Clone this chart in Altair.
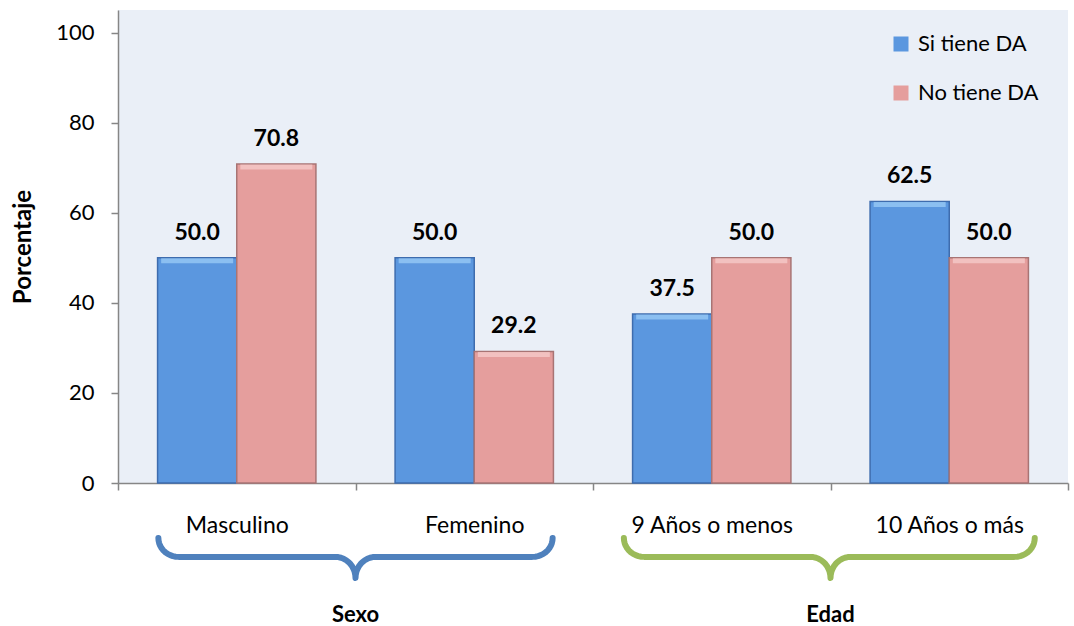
import numpy as np
import pandas as pd
import altair as alt

# --- values -------------------------------------------------------------
categorias = ["Masculino", "Femenino", "9 Años o menos", "10 Años o más"]
series = ["Si tiene DA", "No tiene DA"]
si_tiene = [50.0, 50.0, 37.5, 62.5]
no_tiene = [70.8, 29.2, 50.0, 50.0]

grupos = ["Sexo", "Edad"]
grupo_inicio = [0.17, 2.13]   # brace extent, in category-band units
grupo_fin = [1.83, 3.86]
grupo_centro = [1.0, 3.0]
grupo_color = ["#4f81bd", "#9bbb59"]

relleno = ["#5b97df", "#e59e9d"]
brillo = ["#9fd0f8", "#f8d0cf"]
borde = ["#3e6cae", "#a87474"]

FONT = "Lato"
W, H = 950, 473

rows = []
for cat, a, b in zip(categorias, si_tiene, no_tiene):
    rows.append({"cat": cat, "serie": series[0], "valor": a})
    rows.append({"cat": cat, "serie": series[1], "valor": b})
df = pd.DataFrame(rows)
df["etiqueta"] = df["valor"].map(lambda v: f"{v:.1f}")

# brace outline: curled ends, straight run, pointed centre
def brace(x0, x1, xc, top=-12.2, line=-16.4, tip=-21.1, r=0.085):
    t = np.linspace(0, np.pi / 2, 12)
    left_end = [(x0 + r * (1 - np.cos(s)), top + (line - top) * np.sin(s)) for s in t]
    left_mid = [(xc - r + r * np.sin(s), line + (tip - line) * (1 - np.cos(s))) for s in t]
    right_mid = [(xc + r - r * np.sin(s), line + (tip - line) * (1 - np.cos(s))) for s in t][::-1]
    right_end = [(x1 - r * (1 - np.cos(s)), top + (line - top) * np.sin(s)) for s in t][::-1]
    return left_end + left_mid + right_mid + right_end

brace_rows = []
for g, x0, x1, xc in zip(grupos, grupo_inicio, grupo_fin, grupo_centro):
    for i, (px, py) in enumerate(brace(x0, x1, xc)):
        brace_rows.append({"grupo": g, "orden": i, "bx": px, "by": py})
braces = pd.DataFrame(brace_rows)
grupo_df = pd.DataFrame({"grupo": grupos, "bx": grupo_centro, "by": [-29.3, -29.3]})

# --- scales -------------------------------------------------------------
y_scale = alt.Scale(domain=[0, 105], nice=False)
x_band = alt.Scale(paddingInner=0, paddingOuter=0)
off_scale = alt.Scale(paddingInner=0, paddingOuter=0.5)

x_axis = alt.Axis(
    title=None, labelAngle=0, labelFontSize=23, labelFont=FONT, labelColor="#000000",
    labelPadding=24, tickBand="extent", tickSize=7, tickColor="#868686",
    domainColor="#868686", domainWidth=1.5, tickWidth=1.5, grid=False,
)
y_axis = alt.Axis(
    title="Porcentaje", values=[0, 20, 40, 60, 80, 100], grid=False,
    labelFontSize=22, labelFont=FONT, labelColor="#000000", labelPadding=17,
    tickSize=7, tickColor="#868686", tickWidth=1.5, domainColor="#868686", domainWidth=1.5,
    titleFont=FONT, titleFontSize=24, titleFontWeight="bold", titleColor="#000000",
    titleX=-95, titleY=H / 2, titleAngle=-90, titleAlign="center", titleBaseline="middle",
)

x_enc = alt.X("cat:N", sort=categorias, scale=x_band, axis=x_axis)
off_enc = alt.XOffset("serie:N", sort=series, scale=off_scale)
y_enc = alt.Y("valor:Q", scale=y_scale, axis=y_axis)

barras = alt.Chart(df).mark_bar(strokeWidth=1.5).encode(
    x=x_enc, xOffset=off_enc, y=y_enc,
    color=alt.Color(
        "serie:N", sort=series,
        scale=alt.Scale(domain=series, range=relleno),
        legend=alt.Legend(
            title=None, orient="none", legendX=772, legendY=23, direction="vertical",
            symbolType="square", symbolSize=225, symbolStrokeWidth=0,
            labelFont=FONT, labelFontSize=22, labelColor="#000000",
            rowPadding=27, labelOffset=6, padding=0,
        ),
    ),
    stroke=alt.Stroke("serie:N", sort=series,
                      scale=alt.Scale(domain=series, range=borde), legend=None),
)

# lighter bevel strip along the top of each bar
brillos = alt.Chart(df).mark_tick(thickness=5, size=72, yOffset=3).encode(
    x=x_enc, xOffset=off_enc, y=y_enc,
    color=alt.Color("serie:N", sort=series,
                    scale=alt.Scale(domain=series, range=brillo), legend=None),
)

etiquetas = alt.Chart(df).mark_text(
    font=FONT, fontSize=23, fontWeight="bold", color="#000000",
    baseline="middle", dy=-25,
).encode(x=x_enc, xOffset=off_enc, y=y_enc, text="etiqueta:N")

capa_barras = alt.layer(barras, brillos, etiquetas).resolve_scale(color="independent")

bx_scale = alt.Scale(domain=[0, 4], nice=False, zero=False)
llaves = []
for g, col in zip(grupos, grupo_color):
    llaves.append(
        alt.Chart(braces).transform_filter(alt.datum.grupo == g)
        .mark_line(strokeWidth=6, color=col, strokeCap="round", strokeJoin="round")
        .encode(
            x=alt.X("bx:Q", scale=bx_scale, axis=None),
            y=alt.Y("by:Q", scale=y_scale),
            order="orden:Q",
        )
    )
titulos = alt.Chart(grupo_df).mark_text(
    font=FONT, fontSize=22, fontWeight="bold", color="#000000", baseline="middle",
).encode(
    x=alt.X("bx:Q", scale=bx_scale, axis=None),
    y=alt.Y("by:Q", scale=y_scale),
    text="grupo:N",
)
capa_llaves = alt.layer(*llaves, titulos)

chart = (
    alt.layer(capa_barras, capa_llaves)
    .resolve_scale(x="independent", color="independent")
    .properties(
        width=W, height=H,
        autosize=alt.AutoSizeParams(type="none"),
        padding={"left": 118, "top": 10, "right": 6, "bottom": 143},
        background="#ffffff",
    )
    .configure_view(stroke=None, fill="#eaeff7")
)

chart.save("out.html", embed_options={"renderer": "svg", "actions": False})
